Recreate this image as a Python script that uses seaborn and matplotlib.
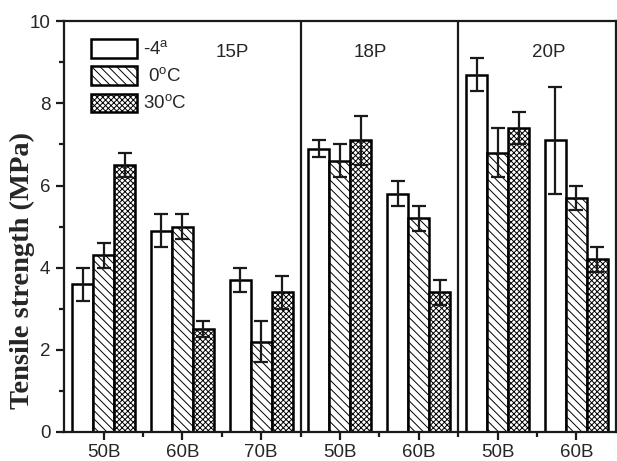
import pandas as pd
import matplotlib.pyplot as plt
import matplotlib.ticker as mticker
import seaborn as sns

# ------------------------------
# Data
# ------------------------------
groups = ['15P', '15P', '15P', '18P', '18P', '20P', '20P']
blends = ['50B', '60B', '70B', '50B', '60B', '50B', '60B']
temps = ['-4$^{\\rm a}$', ' 0$^{\\rm o}$C', '30$^{\\rm o}$C']

strength_m4 = [3.6, 4.9, 3.7, 6.9, 5.8, 8.7, 7.1]
strength_0 = [4.3, 5.0, 2.2, 6.6, 5.2, 6.8, 5.7]
strength_30 = [6.5, 2.5, 3.4, 7.1, 3.4, 7.4, 4.2]

err_m4 = [0.4, 0.4, 0.3, 0.2, 0.3, 0.4, 1.3]
err_0 = [0.3, 0.3, 0.5, 0.4, 0.3, 0.6, 0.3]
err_30 = [0.3, 0.2, 0.4, 0.6, 0.3, 0.4, 0.3]

# long-form table for seaborn
keys = [g + '-' + b for g, b in zip(groups, blends)]
rows = []
for t, vals, errs in zip(temps, [strength_m4, strength_0, strength_30],
                         [err_m4, err_0, err_30]):
    for k, v, e in zip(keys, vals, errs):
        rows.append({'sample': k, 'temp': t, 'strength': v, 'err': e})
df = pd.DataFrame(rows)

sns.set_style('ticks')
plt.rcParams['font.family'] = ['Liberation Sans', 'DejaVu Sans']
plt.rcParams['mathtext.fontset'] = 'custom'
plt.rcParams['mathtext.rm'] = 'Liberation Sans'
plt.rcParams['hatch.linewidth'] = 0.7
plt.rcParams['hatch.color'] = 'black'

fig = plt.figure(figsize=(6.17, 4.61), dpi=100)
ax = fig.add_axes([0.104, 0.063, 0.894, 0.891])

sns.barplot(data=df, x='sample', y='strength', hue='temp', order=keys,
            hue_order=temps, errorbar=None, width=0.8, gap=0,
            palette=['white'] * 3, edgecolor='black', linewidth=1.8,
            saturation=1, ax=ax)

bar_conts = list(ax.containers)
hatches = ['', '\\\\\\\\', 'xxxxxx']
for cont, h, t in zip(bar_conts, hatches, temps):
    sub = df[df['temp'] == t].set_index('sample').loc[keys]
    xs = []
    for p in cont.patches:
        p.set_hatch(h)
        p.set_facecolor('white')
        xs.append(p.get_x() + p.get_width() / 2)
    ax.errorbar(xs, sub['strength'], yerr=sub['err'], fmt='none',
                ecolor='#1a1a1a', elinewidth=1.6, capsize=5, capthick=1.6,
                zorder=5)

# separators between the P groups
for xv in [2.5, 4.5]:
    ax.axvline(xv, color='#1a1a1a', lw=1.6, zorder=6)

for lab, xv in zip(['15P', '18P', '20P'], [1.63, 3.39, 5.65]):
    ax.text(xv, 9.25, lab, ha='center', va='center', fontsize=13.5)

ax.set_xlim(-0.5, 6.5)
ax.set_ylim(0, 10)
ax.set_xticks(range(len(blends)))
ax.set_xticklabels(blends, fontsize=13.5)
ax.xaxis.set_minor_locator(mticker.FixedLocator([0.5 + i for i in range(6)]))
ax.yaxis.set_major_locator(mticker.MultipleLocator(2))
ax.yaxis.set_minor_locator(mticker.MultipleLocator(1))
ax.tick_params(axis='both', which='major', direction='out', length=6,
               width=1.6, labelsize=13.5, color='#1a1a1a', pad=4)
ax.tick_params(axis='x', which='major', pad=2.5)
ax.tick_params(axis='both', which='minor', direction='out', length=3.5,
               width=1.6, color='#1a1a1a')
ax.set_xlabel('')
ax.set_ylabel('Tensile strength (MPa)', fontsize=20.5, fontweight='bold',
              family='Liberation Serif')
ax.yaxis.set_label_coords(-0.052, 0.394)
for s in ax.spines.values():
    s.set_linewidth(1.6)
    s.set_color('#1a1a1a')

handles = [c.patches[0] for c in bar_conts]
ax.legend(handles, temps, loc='upper left', bbox_to_anchor=(0.035, 0.975),
          frameon=False, fontsize=13.5, handlelength=2.45, handleheight=1.17,
          handletextpad=0.3, labelspacing=0.4, borderaxespad=0)

plt.savefig('out.png', dpi=100)
